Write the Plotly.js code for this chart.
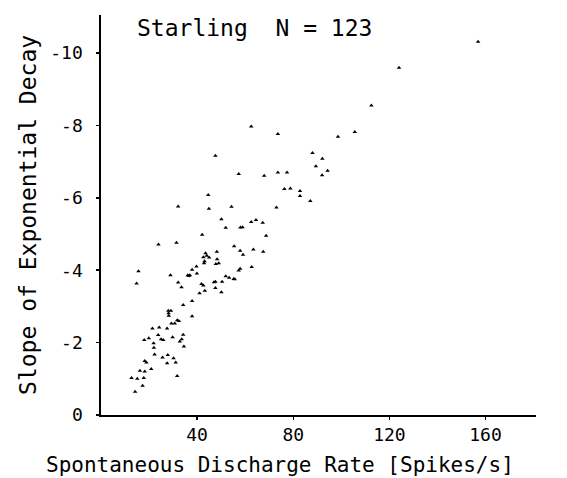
<!DOCTYPE html>
<html>
<head>
<meta charset="utf-8">
<script src="https://cdn.plot.ly/plotly-3.0.1.min.js"></script>
<style>html,body{margin:0;padding:0;background:#fff;}#chart{width:567px;height:478px;}</style>
</head>
<body>
<div id="chart"></div>
<script>
// Spontaneous discharge rate (spikes/s)
var rate = [156.9,124.0,112.5,62.5,73.6,98.6,105.6,47.6,88.0,92.1,
  89.4,94.3,92.0,57.3,67.9,73.6,77.4,76.3,78.8,82.8,
  82.8,87.1,44.6,44.9,32.1,54.3,73.0,50.1,51.9,58.0,
  58.9,62.5,64.5,67.3,68.7,42.1,23.9,31.4,55.4,57.9,
  59.1,63.4,67.5,48.2,43.5,42.6,45.0,43.1,48.3,47.8,
  49.0,39.7,37.9,39.9,36.1,37.0,28.9,15.6,14.8,32.1,
  33.5,51.9,53.3,55.7,57.9,57.3,62.7,47.6,50.4,47.6,
  50.1,41.8,42.6,41.0,43.2,37.9,34.2,37.9,28.0,29.1,
  28.2,31.7,30.7,29.3,27.5,24.2,21.4,19.9,18.0,23.8,
  25.0,25.9,21.9,22.0,29.8,34.2,33.6,32.8,34.5,22.3,
  25.6,27.8,27.5,30.2,31.1,31.7,18.2,18.9,20.9,18.2,
  16.2,12.7,15.1,17.8,17.3,14.2,28.1,42.9,36.5,32.4,
  47.0,55.2,44.0];
// Slope of exponential decay
var slope = [-10.31,-9.59,-8.55,-7.97,-7.76,-7.69,-7.82,-7.16,-7.24,-7.08,
  -6.87,-6.75,-6.62,-6.66,-6.61,-6.70,-6.70,-6.24,-6.26,-6.19,
  -6.05,-5.91,-6.08,-5.70,-5.76,-5.75,-5.73,-5.41,-5.17,-5.18,
  -5.19,-5.33,-5.39,-5.31,-4.95,-4.98,-4.71,-4.76,-4.66,-4.54,
  -4.43,-4.57,-4.51,-4.51,-4.47,-4.36,-4.35,-4.25,-4.30,-4.17,
  -4.19,-4.10,-4.01,-3.91,-3.86,-3.86,-3.86,-3.97,-3.63,-3.66,
  -3.53,-3.83,-3.79,-3.75,-4.04,-3.99,-4.09,-3.68,-3.68,-3.51,
  -3.39,-3.62,-3.58,-3.36,-3.43,-3.15,-3.04,-2.73,-2.88,-2.88,
  -2.74,-2.62,-2.53,-2.53,-2.39,-2.42,-2.39,-2.12,-2.07,-2.21,
  -2.09,-2.07,-1.98,-1.86,-2.15,-2.22,-2.09,-2.03,-1.89,-1.67,
  -1.59,-1.66,-1.43,-1.57,-1.45,-1.08,-1.49,-1.45,-1.27,-1.20,
  -1.22,-1.02,-1.00,-1.02,-0.81,-0.64,-2.81,-4.19,-3.84,-2.60,
  -3.67,-3.76,-4.40];
var xTickVals = [40, 80, 120, 160];
var xTickText = ['40', '80', '120', '160'];
var yTickVals = [0, -2, -4, -6, -8, -10];
var yTickText = ['0', '-2', '-4', '-6', '-8', '-10'];
var xTitle = 'Spontaneous Discharge Rate [Spikes/s]';
var yTitle = 'Slope of Exponential Decay';
var label = 'Starling&nbsp;&nbsp;N = 123';

var F = 'DejaVu Sans Mono, monospace';
var trace = {
  x: rate, y: slope, type: 'scatter', mode: 'markers',
  marker: {symbol: 'triangle-up', size: 4, color: '#000'},
  hoverinfo: 'skip'
};
var layout = {
  width: 567, height: 478,
  margin: {l: 101, r: 31, t: 15, b: 63},
  paper_bgcolor: '#fff', plot_bgcolor: '#fff',
  showlegend: false,
  font: {family: F, color: '#000', size: 18},
  xaxis: {
    range: [0, 181], showgrid: false, zeroline: false,
    showline: true, linecolor: '#000', linewidth: 1.6,
    ticks: 'outside', ticklen: 3, tickwidth: 1.5, tickcolor: '#000',
    tickvals: xTickVals, ticktext: xTickText,
    tickfont: {family: F, size: 18, color: '#000'}
  },
  yaxis: {
    range: [0, -11.05], showgrid: false, zeroline: false,
    showline: true, linecolor: '#000', linewidth: 1.6,
    ticks: 'outside', ticklen: 3, tickwidth: 1.5, tickcolor: '#000',
    tickvals: yTickVals, ticktext: yTickText,
    tickfont: {family: F, size: 18, color: '#000'},
    ticklabelstandoff: 10
  },
  annotations: [
    {text: label, xref: 'paper', yref: 'paper', x: 0.078, y: 0.968,
     xanchor: 'left', yanchor: 'middle', showarrow: false,
     font: {family: F, size: 23, color: '#000'}},
    {text: xTitle, xref: 'paper', yref: 'paper', x: 0.411, y: -0.125,
     xanchor: 'center', yanchor: 'middle', showarrow: false,
     font: {family: F, size: 21, color: '#000'}},
    {text: yTitle, xref: 'paper', yref: 'paper', x: -0.168, y: 0.5,
     xanchor: 'center', yanchor: 'middle', showarrow: false, textangle: -90,
     font: {family: F, size: 23, color: '#000'}}
  ]
};
Plotly.newPlot('chart', [trace], layout, {staticPlot: true, displayModeBar: false});
</script>
</body>
</html>
